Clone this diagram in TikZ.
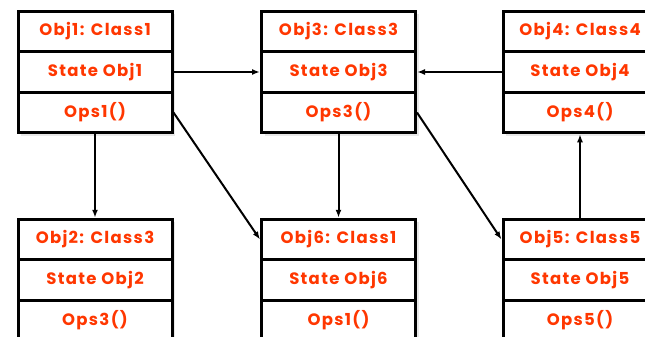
\documentclass[tikz,border=0pt]{standalone}
\usepackage{fontspec}
\setmainfont{Poppins}[LetterSpace=8]
\usetikzlibrary{positioning,arrows.meta,shadows}
\definecolor{objred}{RGB}{255,55,0}
\tikzset{
part/.style={draw, line width=3pt, fill=white, minimum width=154pt,
  minimum height=40.5pt, inner sep=0pt, text=objred,
  font=\bfseries\fontsize{16.5}{19}\selectfont,
  drop shadow={opacity=.18, shadow xshift=3pt, shadow yshift=-3pt}},
link/.style={-{Latex[length=8pt,width=6pt]}, line width=2pt},
node distance=-3pt,
}

\begin{document}
\begin{tikzpicture}[x=1pt,y=-1pt]
    \clip (0,0) rectangle (645,337);

    % top row
    \node[part] (o1h) at (95,31.5) {Obj1: Class1};
    \node[part,below=of o1h] (o1s) {State Obj1};
    \node[part,below=of o1s] (o1o) {Ops1()};

    \node[part] (o3h) at (338.5,31.5) {Obj3: Class3};
    \node[part,below=of o3h] (o3s) {State Obj3};
    \node[part,below=of o3s] (o3o) {Ops3()};

    \node[part] (o4h) at (580,31.5) {Obj4: Class4};
    \node[part,below=of o4h] (o4s) {State Obj4};
    \node[part,below=of o4s] (o4o) {Ops4()};

    % bottom row
    \node[part] (o2h) at (95,239.5) {Obj2: Class3};
    \node[part,below=of o2h] (o2s) {State Obj2};
    \node[part,below=of o2s] (o2o) {Ops3()};

    \node[part] (o6h) at (338.5,239.5) {Obj6: Class1};
    \node[part,below=of o6h] (o6s) {State Obj6};
    \node[part,below=of o6s] (o6o) {Ops1()};

    \node[part] (o5h) at (580,239.5) {Obj5: Class5};
    \node[part,below=of o5h] (o5s) {State Obj5};
    \node[part,below=of o5s] (o5o) {Ops5()};

    \draw[link] (o1s) -- (o3s);
    \draw[link] (o4s) -- (o3s);
    \draw[link] (o1o) -- (o2h);
    \draw[link] (o1o.east) -- (o6h.west);
    \draw[link] (o3o) -- (o6h);
    \draw[link] (o3o.east) -- (o5h.west);
    \draw[link] (o5h) -- (o4o);

\end{tikzpicture}
\end{document}
